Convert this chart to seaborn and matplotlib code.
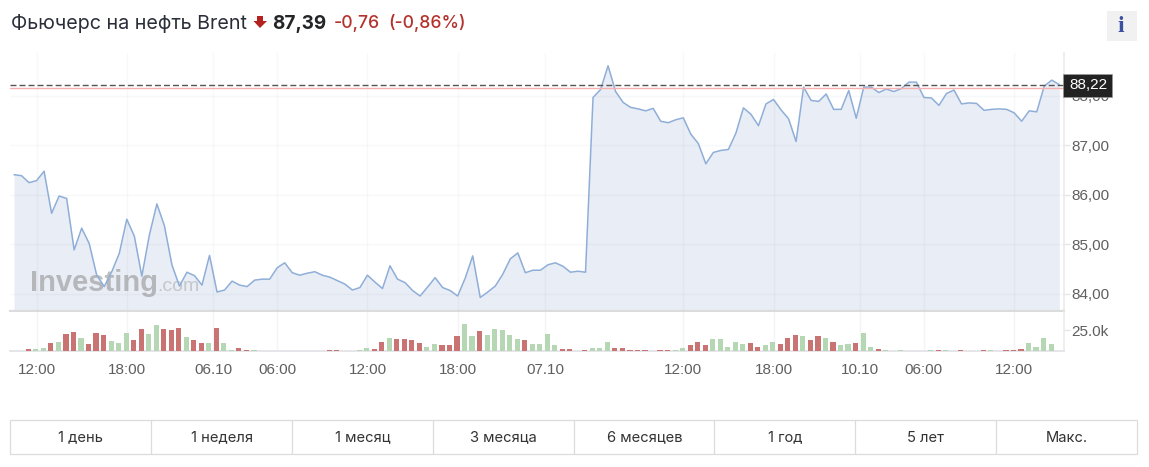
"""
Brent futures chart with volume bars, Investing.com style.
"""
import numpy as np
import pandas as pd
import matplotlib
matplotlib.use('Agg')
import matplotlib.pyplot as plt
from matplotlib.patches import Rectangle, Polygon
import seaborn as sns

sns.set_theme(style="white")
plt.rcParams['font.family'] = ['Liberation Sans', 'DejaVu Sans']

# ============================================================
# Data
# ============================================================
price = [
    86.40, 86.38, 86.24, 86.28, 86.47, 85.62, 85.97, 85.92, 84.88, 85.32,
    85.01, 84.37, 84.14, 84.44, 84.81, 85.50, 85.16, 84.35, 85.18, 85.81,
    85.37, 84.58, 84.15, 84.43, 84.36, 84.17, 84.77, 84.03, 84.07, 84.25,
    84.17, 84.14, 84.27, 84.29, 84.29, 84.52, 84.62, 84.42, 84.37, 84.41,
    84.44, 84.37, 84.33, 84.26, 84.19, 84.07, 84.12, 84.37, 84.23, 84.10,
    84.56, 84.29, 84.22, 84.06, 83.95, 84.13, 84.32, 84.12, 84.06, 83.95,
    84.31, 84.76, 83.92, 84.03, 84.15, 84.39, 84.70, 84.82, 84.42, 84.47,
    84.47, 84.58, 84.62, 84.55, 84.43, 84.45, 84.43, 87.96, 88.12, 88.60,
    88.08, 87.86, 87.76, 87.73, 87.69, 87.74, 87.48, 87.45, 87.51, 87.55,
    87.22, 87.03, 86.62, 86.85, 86.89, 86.91, 87.24, 87.75, 87.62, 87.39,
    87.83, 87.92, 87.71, 87.53, 87.07, 88.17, 87.90, 87.88, 88.03, 87.72,
    87.72, 88.10, 87.54, 88.17, 88.17, 88.06, 88.13, 88.08, 88.14, 88.27,
    88.27, 87.96, 87.95, 87.80, 88.04, 88.11, 87.83, 87.85, 87.84, 87.70,
    87.72, 87.73, 87.72, 87.65, 87.48, 87.69, 87.67, 88.19, 88.31, 88.22,
]

# thousands of contracts per half hour
volume = [
    0, 0, 2.8, 2.4, 4.0, 10.1, 11.3, 20.6, 23.4, 16.1,
    8.5, 22.2, 19.4, 12.5, 9.7, 22.2, 12.9, 26.6, 20.6, 31.0,
    26.6, 25.0, 28.2, 17.3, 12.9, 10.1, 10.1, 28.2, 10.1, 0.8,
    3.6, 1.2, 0.8, 0, 0, 0, 0, 0, 0, 0,
    0, 0, 1.6, 1.2, 0, 0, 0.8, 4.0, 2.4, 11.3,
    16.1, 14.9, 14.9, 13.3, 10.1, 4.8, 8.1, 6.9, 7.3, 17.7,
    33.1, 17.7, 23.8, 19.0, 26.6, 25.0, 19.0, 14.5, 13.3, 8.5,
    8.5, 21.0, 6.9, 2.4, 2.4, 0, 1.2, 3.2, 4.0, 11.3,
    4.0, 4.0, 0.8, 0.8, 0.8, 0, 0.8, 0.8, 1.6, 4.0,
    6.9, 11.3, 7.3, 14.5, 14.5, 5.2, 11.3, 8.5, 10.1, 5.2,
    6.9, 11.3, 8.5, 16.1, 19.4, 17.7, 13.3, 17.7, 16.1, 11.3,
    6.9, 8.5, 10.1, 22.2, 5.2, 2.4, 0.8, 0, 0.8, 0,
    0, 0, 0.8, 1.6, 0.8, 0, 1.2, 0, 0, 1.2,
    0.8, 0, 0.8, 1.2, 2.4, 10.1, 5.2, 16.1, 8.5, 0,
]

direction = list(
    "ggrggrgrrg" "rrrgggrrgg" "rrrgrrgrgg" "rrgggggggg" "ggrrggggrr"
    "grrrrggrrr" "ggrgggggrg" "gggrrgrggg" "rrrrrgrrgg" "rrrgggggrr"
    "ggrrrgrrgr" "ggrggrgggg" "gggrggrggr" "ggrrrggggg"
)

x_ticks = [3, 15, 26.5, 35, 47, 59, 70.6, 89, 101, 112.5, 121, 133]
x_labels = ['12:00', '18:00', '06.10', '06:00', '12:00', '18:00', '07.10',
            '12:00', '18:00', '10.10', '06:00', '12:00']
y_ticks = [84, 85, 86, 87, 88]
y_labels = ['84,00', '85,00', '86,00', '87,00', '88,00']
last_price = 88.22
prev_close = 88.15
ranges = ['1 день', '1 неделя', '1 месяц', '3 месяца', '6 месяцев',
          '1 год', '5 лет', 'Макс.']

df = pd.DataFrame({'i': np.arange(len(price)), 'price': price,
                   'volume': volume, 'dir': direction})

# ============================================================
# Layout helpers, all in pixels of the 1149x467 picture
# ============================================================
W, H = 1149, 467
fig = plt.figure(figsize=(W / 100, H / 100), dpi=100, facecolor='white')


def px_axes(left, top, right, bottom, **kw):
    return fig.add_axes([left / W, 1 - bottom / H, (right - left) / W, (bottom - top) / H], **kw)


X0, STEP = 14, 7.52
xlim = ((10 - X0) / STEP, (1064 - X0) / STEP)
GRID = '#f3f4f6'
TICK = '#5f5f5f'
BAR_SHIFT = 0.09  # bars sit a little left of the line points

# ============================================================
# Price panel
# ============================================================
ax = px_axes(10, 53, 1064, 311)
ax.fill_between(df['i'], df['price'], 83, color='#e9edf5', lw=0, zorder=1)
sns.lineplot(data=df, x='i', y='price', ax=ax, color='#8eaed8', lw=1.1, zorder=3)
ax.set_xlim(xlim)
ax.set_ylim(84 + (293.5 - 311) / 49.5, 84 + (293.5 - 53) / 49.5)
ax.set_xlabel('')
ax.set_ylabel('')
ax.set_xticks(x_ticks)
ax.set_xticklabels([])
ax.yaxis.tick_right()
ax.set_yticks(y_ticks)
ax.set_yticklabels(y_labels, fontsize=11, color=TICK)
ax.tick_params(axis='y', length=4, width=1, color='#e6e6e6', pad=1)
ax.tick_params(axis='x', length=0)
ax.grid(True, color='#7f8a9a', alpha=0.06, lw=1, zorder=2)
ax.set_axisbelow(False)
for s in ['top', 'left']:
    ax.spines[s].set_visible(False)
ax.spines['right'].set_color('#ececec')
ax.spines['bottom'].set_color('#dcdcdc')
ax.spines['bottom'].set_linewidth(1.6)

ax.axhline(prev_close, color='#f7b0b0', lw=1.0, zorder=4)
ax.axhline(last_price, color='#555555', lw=1, dashes=(4.3, 2.2), zorder=5)

ax.text(20 / 1054, 0.078, 'Investing', transform=ax.transAxes, fontsize=21,
        fontweight='bold', color='#8c8c8c', alpha=0.55, zorder=2.5, va='baseline')
ax.text(147 / 1054, 0.078, '.com', transform=ax.transAxes, fontsize=14,
        color='#a8a8a8', alpha=0.55, zorder=2.5, va='baseline')

# ============================================================
# Volume panel
# ============================================================
ax_v = px_axes(10, 312, 1064, 351)
sns.barplot(data=df, x='i', y='volume', hue='dir', ax=ax_v, native_scale=True,
            dodge=False, width=0.68, errorbar=None, legend=False, saturation=1,
            palette={'g': '#b6d7b4', 'r': '#c97373'}, linewidth=0, zorder=3)
ax_v.set_xlim(xlim[0] + BAR_SHIFT, xlim[1] + BAR_SHIFT)
ax_v.set_ylim(0, 47)
ax_v.set_xlabel('')
ax_v.set_ylabel('')
ax_v.set_xticks([t + BAR_SHIFT for t in x_ticks])
ax_v.set_xticklabels(x_labels, fontsize=11, color=TICK)
ax_v.yaxis.tick_right()
ax_v.set_yticks([25])
ax_v.set_yticklabels(['25.0k'], fontsize=11, color=TICK)
ax_v.tick_params(axis='y', length=4, width=1, color='#e6e6e6', pad=1)
ax_v.tick_params(axis='x', length=4, width=1, color='#f0f0f0', pad=4.5)
ax_v.xaxis.grid(True, color=GRID, lw=1, zorder=1)
ax_v.set_axisbelow(True)
for s in ['top', 'left']:
    ax_v.spines[s].set_visible(False)
ax_v.spines['right'].set_color('#ececec')
ax_v.spines['bottom'].set_color('#e6e6ea')
ax_v.spines['bottom'].set_linewidth(1.4)

# ============================================================
# Header, last price box and range buttons
# ============================================================
ov = px_axes(0, 0, W, H, zorder=10)
ov.set_xlim(0, W)
ov.set_ylim(H, 0)
ov.axis('off')
ov.patch.set_alpha(0)

INTER = ['Inter', 'DejaVu Sans']
ov.text(11, 29, 'Фьючерс на нефть Brent', family=INTER, fontsize=14.2, color='#2a2e39', va='baseline')
ov.add_patch(Polygon([(257, 16), (263, 16), (263, 21), (267, 21), (260, 28), (253.5, 21), (257, 21)],
                     closed=True, color='#b5211f', lw=0))
ov.text(272, 29, '87,39', family=INTER, fontsize=13.6, fontweight='bold', color='#232526', va='baseline')
ov.text(334, 28.5, '-0,76', family=INTER, fontsize=12.7, fontweight='medium', color='#b5312c', va='baseline')
ov.text(388.5, 28.5, '(-0,86%)', family=INTER, fontsize=12.6, fontweight='medium', color='#b5312c', va='baseline')

ov.add_patch(Rectangle((1107, 11), 30, 30, color='#f1f1f1', lw=0))
ov.text(1121, 26, 'i', family=['Liberation Serif'], fontsize=17, fontweight='bold',
        color='#3d50a0', ha='center', va='center')

ov.add_patch(Rectangle((1063, 73.5), 49, 23, facecolor='#222222', edgecolor='#9a9a9a', lw=0.5))
ov.text(1088, 85, '88,22', fontsize=11, color='white', ha='center', va='center')

edges = [10, 151.3, 292.3, 433.3, 574.3, 714.3, 855.3, 996.3, 1137.3]
ov.add_patch(Rectangle((edges[0], 420.3), edges[-1] - edges[0], 34, facecolor='none',
                       edgecolor='#dcdcdc', lw=0.9))
for e in edges[1:-1]:
    ov.plot([e, e], [420.3, 454.3], color='#dcdcdc', lw=0.9)
for i, label in enumerate(ranges):
    ov.text((edges[i] + edges[i + 1]) / 2, 437.5, label, family=INTER, fontsize=10.6,
            color='#333333', ha='center', va='center')

fig.savefig('out.png', dpi=100)
